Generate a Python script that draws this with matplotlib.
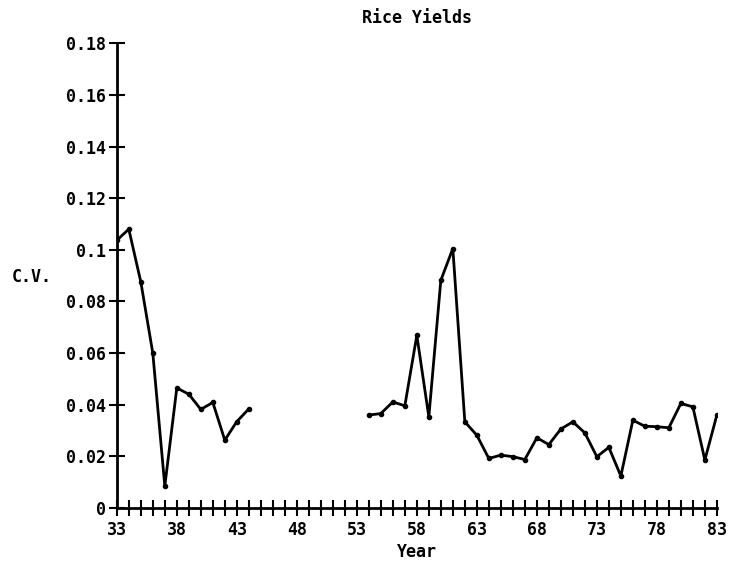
import numpy as np
import matplotlib.pyplot as plt

# coefficient of variation of rice yields, two separate runs of years
years_a = [33, 34, 35, 36, 37, 38, 39, 40, 41, 42, 43, 44]
cv_a = [0.1037, 0.108, 0.0876, 0.060, 0.0085, 0.0465, 0.0441, 0.0382,
        0.0409, 0.0263, 0.0335, 0.0384]

years_b = [54, 55, 56, 57, 58, 59, 60, 61, 62, 63, 64, 65, 66, 67, 68, 69,
           70, 71, 72, 73, 74, 75, 76, 77, 78, 79, 80, 81, 82, 83]
cv_b = [0.036, 0.0366, 0.0411, 0.0396, 0.0669, 0.0353, 0.0882, 0.1005,
        0.0334, 0.0282, 0.0192, 0.0205, 0.0199, 0.0188, 0.0272, 0.0246,
        0.0306, 0.0334, 0.0291, 0.0199, 0.0235, 0.0124, 0.034, 0.0317,
        0.0315, 0.0311, 0.0405, 0.0392, 0.0186, 0.036]

y_ticks = [0, 0.02, 0.04, 0.06, 0.08, 0.1, 0.12, 0.14, 0.16, 0.18]
y_labels = ["0", "0.02", "0.04", "0.06", "0.08", "0.1", "0.12", "0.14", "0.16", "0.18"]
x_major = [33, 38, 43, 48, 53, 58, 63, 68, 73, 78, 83]

plt.rcParams["font.family"] = "DejaVu Sans Mono"
plt.rcParams["font.weight"] = "bold"
plt.rcParams["font.size"] = 12

fig = plt.figure(figsize=(7.3, 5.62), dpi=100)
ax = fig.add_axes([0.160, 0.096, 0.822, 0.827])

for xs, ys in [(years_a, cv_a), (years_b, cv_b)]:
    ax.plot(xs, ys, "-", color="black", lw=2.0, marker="o", ms=3)

ax.set_xlim(33, 83)
ax.set_ylim(0, 0.18)
ax.spines["top"].set_visible(False)
ax.spines["right"].set_visible(False)
ax.spines["left"].set_linewidth(2)
ax.spines["bottom"].set_linewidth(2)

ax.set_yticks(y_ticks)
ax.set_yticklabels(y_labels)
ax.set_xticks(x_major)
ax.set_xticks(np.arange(33, 84), minor=True)
ax.tick_params(axis="both", which="both", direction="inout", length=11,
               width=1.5, color="black")
ax.tick_params(axis="x", which="major", pad=4)
ax.tick_params(axis="y", which="major", pad=2)

# title and axis labels placed in figure coordinates
fig.text(0.571, 0.968, "Rice Yields", ha="center", va="center",
         fontsize=12, fontweight="bold")
fig.text(0.571, 0.017, "Year", ha="center", va="center",
         fontsize=12, fontweight="bold")
fig.text(0.044, 0.507, "C.V.", ha="center", va="center",
         fontsize=12, fontweight="bold")

fig.savefig("out.png", dpi=100)
